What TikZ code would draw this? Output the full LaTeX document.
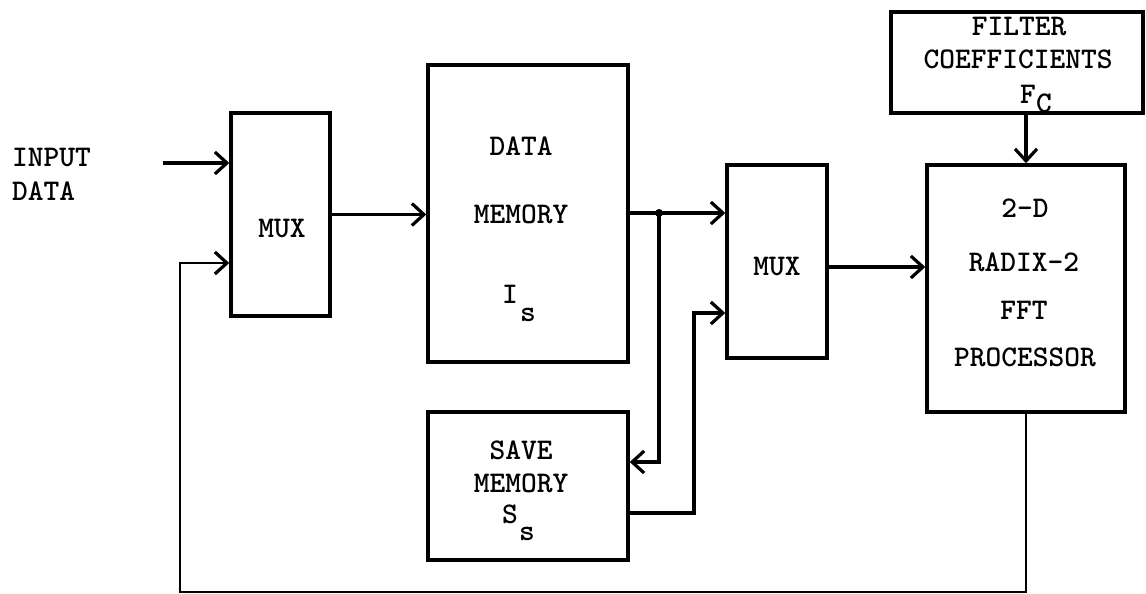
\documentclass[tikz,border=0pt]{standalone}
\usetikzlibrary{arrows.meta}
\begin{document}
\begin{tikzpicture}[x=1pt,y=-1pt,
  box/.style={draw,line width=3.5pt,rectangle,inner sep=0pt},
  lbl/.style={font=\ttfamily\bfseries\fontsize{30}{34}\selectfont,inner sep=0pt,anchor=center},
  arr/.style={line width=3.2pt,-{Straight Barb[length=12pt,width=22pt,line width=3.2pt]}},
  ln/.style={line width=3.2pt},
  fb/.style={line width=2.5pt,-{Straight Barb[length=12pt,width=22pt,line width=3.2pt]}}]
\useasboundingbox (0,0) rectangle (1146,594);
\fill[white] (0,0) rectangle (1146,594);
% boxes
\node[box,minimum width=99pt,minimum height=203pt] (mux1) at (280.5,214.5) {};
\node[box,minimum width=200pt,minimum height=297pt] (dmem) at (528,213.5) {};
\node[box,minimum width=100pt,minimum height=193pt] (mux2) at (777,261.5) {};
\node[box,minimum width=198pt,minimum height=247pt] (fft) at (1026,288.5) {};
\node[box,minimum width=252pt,minimum height=101pt] (filt) at (1017,62.5) {};
\node[box,minimum width=200pt,minimum height=148pt] (save) at (528,486) {};
% labels
\node[lbl,anchor=west] (tinput) at (12,157) {INPUT};
\node[lbl,anchor=west] (tdata) at (12,191) {DATA};
\node[lbl] (tmux1) at (282,228) {MUX};
\node[lbl] (tdm1) at (521,146) {DATA};
\node[lbl] (tdm2) at (521,214) {MEMORY};
\node[lbl] (tdm3) at (510,294) {I};
\node[lbl] (tdm4) at (528,315) {s};
\node[lbl] (tmux2) at (777,266) {MUX};
\node[lbl] (tf1) at (1025,208) {2-D};
\node[lbl] (tf2) at (1024,262) {RADIX-2};
\node[lbl] (tf3) at (1024,310) {FFT};
\node[lbl] (tf4) at (1025,357) {PROCESSOR};
\node[lbl] (tc1) at (1019,27) {FILTER};
\node[lbl] (tc2) at (1018,59) {COEFFICIENTS};
\node[lbl] (tc3) at (1028,94) {F};
\node[lbl] (tc4) at (1044,103) {C};
\node[lbl] (ts1) at (521,450) {SAVE};
\node[lbl] (ts2) at (521,483) {MEMORY};
\node[lbl] (ts3) at (510,514) {S};
\node[lbl] (ts4) at (527,534) {s};
% connectors
\coordinate (in) at (163,163);
\draw[arr] (in) -- (in -| mux1.west);
\coordinate (fbc) at (180,592);
\coordinate (fbt) at (180,263);
\draw[fb] (fft.south) |- (fbc) -- (fbt) -- (fbt -| mux1.west);
\draw[arr] (mux1.east) -- (mux1.east -| dmem.west);
\coordinate (j) at (659,213);
\coordinate (jd) at (659,462);
\draw[ln] (j -| dmem.east) -- (j);
\draw[arr] (j) -- (j -| mux2.west);
\fill (j) circle (4pt);
\draw[arr] (j) -- (jd) -- (jd -| save.east);
\coordinate (so) at (694,513);
\coordinate (m2b) at (694,313);
\draw[arr] (so -| save.east) -- (so) -- (m2b) -- (m2b -| mux2.west);
\coordinate (m2o) at (827,267);
\draw[arr] (m2o) -- (m2o -| fft.west);
\draw[arr] (fft.north |- filt.south) -- (fft.north);
\end{tikzpicture}
\end{document}
